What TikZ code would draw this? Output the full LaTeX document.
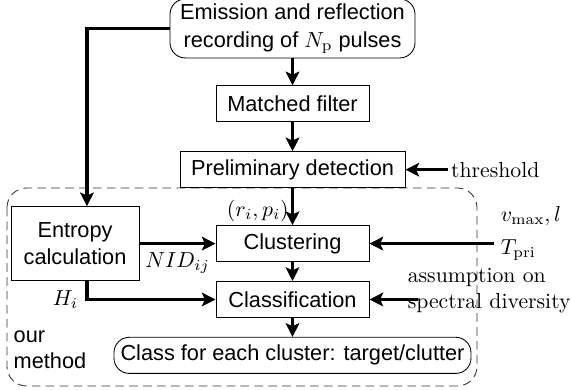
\documentclass[tikz,border=0pt]{standalone}
\usepackage{fontspec}
\setsansfont{Liberation Sans}
\usepackage{tikz}
\usetikzlibrary{arrows.meta}
\usetikzlibrary{shapes, positioning, calc}

\begin{document}
\begin{tikzpicture}[x=0.46pt, y=-0.46pt, >={Stealth[length=6.3pt, width=6.3pt, inset=1.4pt]}, auto,
  flow/.style={->, line width=1.5pt},
  sq node/.style={rectangle, draw, thin, font=\sffamily, minimum height=16.6pt, align=center, inner sep=2pt},
  main node/.style={rectangle, rounded corners=7pt, draw, thin, font=\sffamily, align=center, inner sep=2pt},
  lbl/.style={inner sep=2pt}]
  \useasboundingbox (0,0) rectangle (571,390);
  % our method frame
  \draw[black!80, dash pattern=on 4pt off 2.4pt, rounded corners=9pt] (7,188) rectangle (477,386);
  \node[main node, minimum width=112.7pt, minimum height=24.4pt] (1) at (292.5,28.5) {Emission and reflection\\[1pt]recording of $N_\mathrm{p}$ pulses};
  \node[sq node, minimum width=70.4pt, below=12.4pt of 1] (2) {Matched filter};
  \node[sq node, minimum width=103.5pt, below=13.3pt of 2] (3) {Preliminary detection};
  \node[sq node, minimum width=70.4pt, below=17pt of 3] (4) {Clustering};
  \node[sq node, minimum width=70.4pt, below=8.7pt of 4] (5) {Classification};
  \node[main node, minimum width=164.2pt, minimum height=16.6pt, below=8.7pt of 5] (6) {Class for each cluster: target/clutter};
  \node[sq node, minimum width=58.9pt, minimum height=34pt, left=35pt of 4] (7) {Entropy\\calculation};
  \node[lbl, right=19.8pt of 3, inner sep=1pt] (8) {threshold};
  \coordinate[right=57.5pt of 4] (9);
  \coordinate[right=22.5pt of 5] (10);
  \node[lbl, anchor=west] (11) at (496,216) {$v_\mathrm{max}, l$};
  \node[lbl, anchor=west] (12) at (496,250) {$T_\mathrm{pri}$};
  \node[lbl, anchor=west, align=left] (13) at (403,291) {assumption on\\spectral diversity};
  \node[font=\sffamily, align=left, anchor=west] (14) at (6,350) {our\\method};
  \path[flow]
    (1) edge (2)
    (2) edge (3)
    (8) edge (3)
    (3) edge node[pos=0.62, swap, inner sep=1pt] {$(r_i,p_i)$} (4)
    (7) edge node[swap] {$NID_{ij}$} (4)
    (9) edge (4)
    (4) edge (5)
    (10) edge (5)
    (5) edge (6);
  \draw[flow] (1.west) -| ([xshift=5.5pt]7.north);
  \draw[flow] ([xshift=5.5pt]7.south) |- node[pos=0.5, left] {$H_i$} (5.west);
\end{tikzpicture}
\end{document}
